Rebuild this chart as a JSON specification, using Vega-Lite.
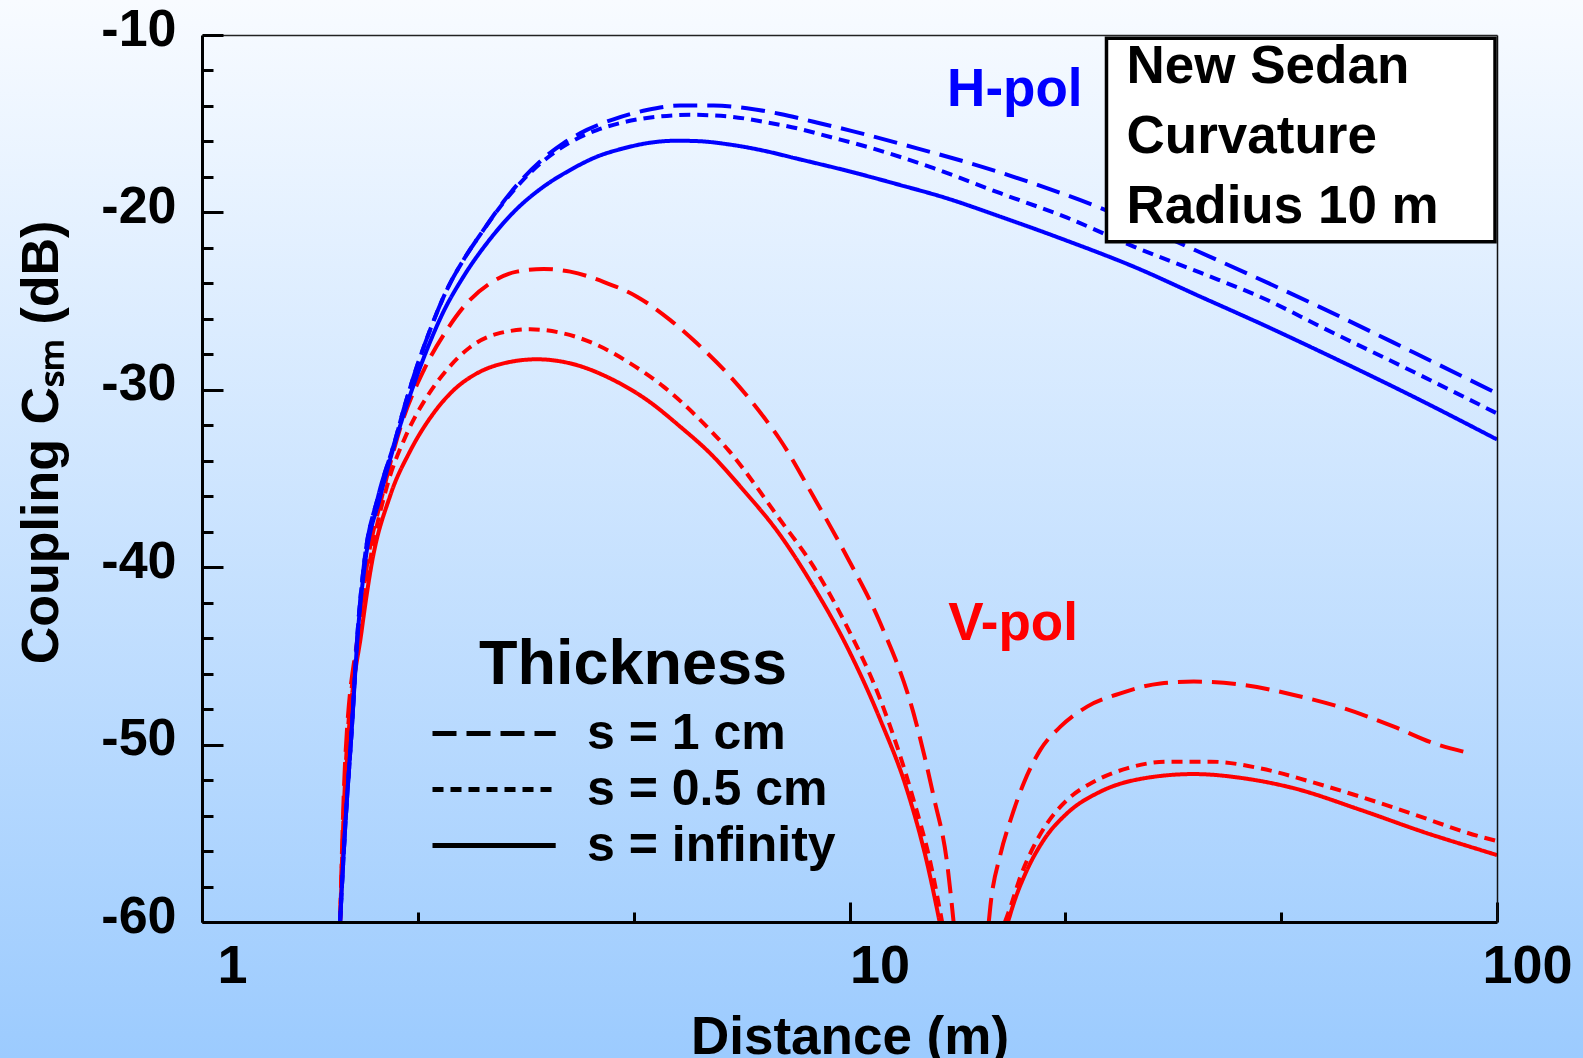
{
  "$schema": "https://vega.github.io/schema/vega-lite/v6.json",
  "width": 1295,
  "height": 887,
  "autosize": {"type": "none"},
  "padding": {"left": 202, "top": 35, "right": 86, "bottom": 136},
  "background": "#c8e0fe",
  "config": {"font": "Liberation Sans", "view": {"stroke": null}},
  "datasets": {
    "curves": [
      {"p":"V-pol","s":"s = infinity","k":"Va3","d":1.634,"c":-60},{"p":"V-pol","s":"s = infinity","k":"Va3","d":1.673,"c":-51.06},{"p":"V-pol","s":"s = infinity","k":"Va3","d":1.765,"c":-43.54},{"p":"V-pol","s":"s = infinity","k":"Va3","d":1.829,"c":-39.78},{"p":"V-pol","s":"s = infinity","k":"Va3","d":1.95,"c":-36.03},{"p":"V-pol","s":"s = infinity","k":"Va3","d":2.1,"c":-33.4},{"p":"V-pol","s":"s = infinity","k":"Va3","d":2.27,"c":-31.4},{"p":"V-pol","s":"s = infinity","k":"Va3","d":2.45,"c":-30.0},{"p":"V-pol","s":"s = infinity","k":"Va3","d":2.65,"c":-29.1},{"p":"V-pol","s":"s = infinity","k":"Va3","d":2.921,"c":-28.51},{"p":"V-pol","s":"s = infinity","k":"Va3","d":3.29,"c":-28.28},{"p":"V-pol","s":"s = infinity","k":"Va3","d":3.704,"c":-28.51},{"p":"V-pol","s":"s = infinity","k":"Va3","d":4.32,"c":-29.45},{"p":"V-pol","s":"s = infinity","k":"Va3","d":4.865,"c":-30.57},{"p":"V-pol","s":"s = infinity","k":"Va3","d":5.478,"c":-32.08},{"p":"V-pol","s":"s = infinity","k":"Va3","d":6.1,"c":-33.6},{"p":"V-pol","s":"s = infinity","k":"Va3","d":6.8,"c":-35.5},{"p":"V-pol","s":"s = infinity","k":"Va3","d":7.818,"c":-38.2},{"p":"V-pol","s":"s = infinity","k":"Va3","d":8.8,"c":-41.1},{"p":"V-pol","s":"s = infinity","k":"Va3","d":9.91,"c":-44.48},{"p":"V-pol","s":"s = infinity","k":"Va3","d":11.16,"c":-48.61},{"p":"V-pol","s":"s = infinity","k":"Va3","d":12.27,"c":-52.56},{"p":"V-pol","s":"s = infinity","k":"Va3","d":13.18,"c":-56.69},{"p":"V-pol","s":"s = infinity","k":"Va3","d":13.78,"c":-60},
      {"p":"V-pol","s":"s = 0.5 cm","k":"Va2","d":1.634,"c":-60},{"p":"V-pol","s":"s = 0.5 cm","k":"Va2","d":1.668,"c":-51.06},{"p":"V-pol","s":"s = 0.5 cm","k":"Va2","d":1.755,"c":-43.54},{"p":"V-pol","s":"s = 0.5 cm","k":"Va2","d":1.815,"c":-39.78},{"p":"V-pol","s":"s = 0.5 cm","k":"Va2","d":1.925,"c":-35.6},{"p":"V-pol","s":"s = 0.5 cm","k":"Va2","d":2.07,"c":-32.5},{"p":"V-pol","s":"s = 0.5 cm","k":"Va2","d":2.225,"c":-30.4},{"p":"V-pol","s":"s = 0.5 cm","k":"Va2","d":2.388,"c":-28.88},{"p":"V-pol","s":"s = 0.5 cm","k":"Va2","d":2.594,"c":-27.6},{"p":"V-pol","s":"s = 0.5 cm","k":"Va2","d":2.853,"c":-26.85},{"p":"V-pol","s":"s = 0.5 cm","k":"Va2","d":3.213,"c":-26.59},{"p":"V-pol","s":"s = 0.5 cm","k":"Va2","d":3.617,"c":-26.82},{"p":"V-pol","s":"s = 0.5 cm","k":"Va2","d":4.073,"c":-27.47},{"p":"V-pol","s":"s = 0.5 cm","k":"Va2","d":4.585,"c":-28.51},{"p":"V-pol","s":"s = 0.5 cm","k":"Va2","d":5.161,"c":-29.82},{"p":"V-pol","s":"s = 0.5 cm","k":"Va2","d":5.813,"c":-31.52},{"p":"V-pol","s":"s = 0.5 cm","k":"Va2","d":6.5,"c":-33.4},{"p":"V-pol","s":"s = 0.5 cm","k":"Va2","d":7.818,"c":-37.34},{"p":"V-pol","s":"s = 0.5 cm","k":"Va2","d":8.8,"c":-39.97},{"p":"V-pol","s":"s = 0.5 cm","k":"Va2","d":9.91,"c":-43.35},{"p":"V-pol","s":"s = 0.5 cm","k":"Va2","d":11.16,"c":-47.47},{"p":"V-pol","s":"s = 0.5 cm","k":"Va2","d":12.56,"c":-53.12},{"p":"V-pol","s":"s = 0.5 cm","k":"Va2","d":13.34,"c":-56.69},{"p":"V-pol","s":"s = 0.5 cm","k":"Va2","d":13.9,"c":-60},
      {"p":"V-pol","s":"s = 1 cm","k":"Va1","d":1.634,"c":-60},{"p":"V-pol","s":"s = 1 cm","k":"Va1","d":1.663,"c":-51.06},{"p":"V-pol","s":"s = 1 cm","k":"Va1","d":1.745,"c":-43.54},{"p":"V-pol","s":"s = 1 cm","k":"Va1","d":1.8,"c":-39.78},{"p":"V-pol","s":"s = 1 cm","k":"Va1","d":1.9,"c":-35.9},{"p":"V-pol","s":"s = 1 cm","k":"Va1","d":2.03,"c":-32.0},{"p":"V-pol","s":"s = 1 cm","k":"Va1","d":2.2,"c":-28.9},{"p":"V-pol","s":"s = 1 cm","k":"Va1","d":2.388,"c":-26.63},{"p":"V-pol","s":"s = 1 cm","k":"Va1","d":2.564,"c":-25.12},{"p":"V-pol","s":"s = 1 cm","k":"Va1","d":2.786,"c":-24.0},{"p":"V-pol","s":"s = 1 cm","k":"Va1","d":3.064,"c":-23.34},{"p":"V-pol","s":"s = 1 cm","k":"Va1","d":3.369,"c":-23.19},{"p":"V-pol","s":"s = 1 cm","k":"Va1","d":3.704,"c":-23.34},{"p":"V-pol","s":"s = 1 cm","k":"Va1","d":4.169,"c":-23.91},{"p":"V-pol","s":"s = 1 cm","k":"Va1","d":4.696,"c":-24.75},{"p":"V-pol","s":"s = 1 cm","k":"Va1","d":5.287,"c":-26.07},{"p":"V-pol","s":"s = 1 cm","k":"Va1","d":5.813,"c":-27.38},{"p":"V-pol","s":"s = 1 cm","k":"Va1","d":6.545,"c":-29.26},{"p":"V-pol","s":"s = 1 cm","k":"Va1","d":7.367,"c":-31.52},{"p":"V-pol","s":"s = 1 cm","k":"Va1","d":7.818,"c":-32.83},{"p":"V-pol","s":"s = 1 cm","k":"Va1","d":8.8,"c":-36.03},{"p":"V-pol","s":"s = 1 cm","k":"Va1","d":9.91,"c":-39.41},{"p":"V-pol","s":"s = 1 cm","k":"Va1","d":11.16,"c":-43.16},{"p":"V-pol","s":"s = 1 cm","k":"Va1","d":12.56,"c":-48.24},{"p":"V-pol","s":"s = 1 cm","k":"Va1","d":13.49,"c":-52.94},{"p":"V-pol","s":"s = 1 cm","k":"Va1","d":14.15,"c":-56.69},{"p":"V-pol","s":"s = 1 cm","k":"Va1","d":14.48,"c":-60},
      {"p":"V-pol","s":"s = 1 cm","k":"Vb1","d":16.41,"c":-60},{"p":"V-pol","s":"s = 1 cm","k":"Vb1","d":16.5,"c":-59.14},{"p":"V-pol","s":"s = 1 cm","k":"Vb1","d":17.1,"c":-56.2},{"p":"V-pol","s":"s = 1 cm","k":"Vb1","d":17.73,"c":-54.25},{"p":"V-pol","s":"s = 1 cm","k":"Vb1","d":18.58,"c":-52.18},{"p":"V-pol","s":"s = 1 cm","k":"Vb1","d":19.71,"c":-50.3},{"p":"V-pol","s":"s = 1 cm","k":"Vb1","d":21.17,"c":-48.99},{"p":"V-pol","s":"s = 1 cm","k":"Vb1","d":23.28,"c":-47.86},{"p":"V-pol","s":"s = 1 cm","k":"Vb1","d":26.21,"c":-47.11},{"p":"V-pol","s":"s = 1 cm","k":"Vb1","d":30.21,"c":-46.55},{"p":"V-pol","s":"s = 1 cm","k":"Vb1","d":34.02,"c":-46.45},{"p":"V-pol","s":"s = 1 cm","k":"Vb1","d":40.64,"c":-46.64},{"p":"V-pol","s":"s = 1 cm","k":"Vb1","d":48.56,"c":-47.2},{"p":"V-pol","s":"s = 1 cm","k":"Vb1","d":58.0,"c":-47.95},{"p":"V-pol","s":"s = 1 cm","k":"Vb1","d":69.3,"c":-48.99},{"p":"V-pol","s":"s = 1 cm","k":"Vb1","d":79.9,"c":-49.93},{"p":"V-pol","s":"s = 1 cm","k":"Vb1","d":91.0,"c":-50.49},
      {"p":"V-pol","s":"s = 0.5 cm","k":"Vb2","d":17.38,"c":-60},{"p":"V-pol","s":"s = 0.5 cm","k":"Vb2","d":17.73,"c":-59.14},{"p":"V-pol","s":"s = 0.5 cm","k":"Vb2","d":18.36,"c":-57.45},{"p":"V-pol","s":"s = 0.5 cm","k":"Vb2","d":19.13,"c":-55.94},{"p":"V-pol","s":"s = 0.5 cm","k":"Vb2","d":20.19,"c":-54.44},{"p":"V-pol","s":"s = 0.5 cm","k":"Vb2","d":21.68,"c":-53.12},{"p":"V-pol","s":"s = 0.5 cm","k":"Vb2","d":23.84,"c":-52.09},{"p":"V-pol","s":"s = 0.5 cm","k":"Vb2","d":26.83,"c":-51.34},{"p":"V-pol","s":"s = 0.5 cm","k":"Vb2","d":30.94,"c":-50.96},{"p":"V-pol","s":"s = 0.5 cm","k":"Vb2","d":36.1,"c":-50.96},{"p":"V-pol","s":"s = 0.5 cm","k":"Vb2","d":43.13,"c":-51.34},{"p":"V-pol","s":"s = 0.5 cm","k":"Vb2","d":51.52,"c":-52.09},{"p":"V-pol","s":"s = 0.5 cm","k":"Vb2","d":61.54,"c":-52.94},{"p":"V-pol","s":"s = 0.5 cm","k":"Vb2","d":73.53,"c":-53.87},{"p":"V-pol","s":"s = 0.5 cm","k":"Vb2","d":94.3,"c":-55.19},{"p":"V-pol","s":"s = 0.5 cm","k":"Vb2","d":100,"c":-55.43},
      {"p":"V-pol","s":"s = infinity","k":"Vb3","d":17.57,"c":-60},{"p":"V-pol","s":"s = infinity","k":"Vb3","d":17.93,"c":-58.95},{"p":"V-pol","s":"s = infinity","k":"Vb3","d":18.8,"c":-57.07},{"p":"V-pol","s":"s = infinity","k":"Vb3","d":19.95,"c":-55.38},{"p":"V-pol","s":"s = infinity","k":"Vb3","d":21.68,"c":-53.87},{"p":"V-pol","s":"s = infinity","k":"Vb3","d":24.41,"c":-52.65},{"p":"V-pol","s":"s = infinity","k":"Vb3","d":28.49,"c":-51.9},{"p":"V-pol","s":"s = infinity","k":"Vb3","d":34.02,"c":-51.66},{"p":"V-pol","s":"s = infinity","k":"Vb3","d":40.64,"c":-51.9},{"p":"V-pol","s":"s = infinity","k":"Vb3","d":48.56,"c":-52.46},{"p":"V-pol","s":"s = infinity","k":"Vb3","d":61.54,"c":-53.68},{"p":"V-pol","s":"s = infinity","k":"Vb3","d":78.04,"c":-55.0},{"p":"V-pol","s":"s = infinity","k":"Vb3","d":94.3,"c":-55.94},{"p":"V-pol","s":"s = infinity","k":"Vb3","d":100,"c":-56.23},
      {"p":"H-pol","s":"s = 1 cm","k":"H1","d":1.634,"c":-60},{"p":"H-pol","s":"s = 1 cm","k":"H1","d":1.663,"c":-54.81},{"p":"H-pol","s":"s = 1 cm","k":"H1","d":1.703,"c":-49.18},{"p":"H-pol","s":"s = 1 cm","k":"H1","d":1.74,"c":-43.54},{"p":"H-pol","s":"s = 1 cm","k":"H1","d":1.78,"c":-39.76},{"p":"H-pol","s":"s = 1 cm","k":"H1","d":1.87,"c":-36.04},{"p":"H-pol","s":"s = 1 cm","k":"H1","d":1.988,"c":-32.83},{"p":"H-pol","s":"s = 1 cm","k":"H1","d":2.047,"c":-31.14},{"p":"H-pol","s":"s = 1 cm","k":"H1","d":2.147,"c":-28.7},{"p":"H-pol","s":"s = 1 cm","k":"H1","d":2.25,"c":-26.63},{"p":"H-pol","s":"s = 1 cm","k":"H1","d":2.388,"c":-24.37},{"p":"H-pol","s":"s = 1 cm","k":"H1","d":2.534,"c":-22.68},{"p":"H-pol","s":"s = 1 cm","k":"H1","d":2.721,"c":-20.99},{"p":"H-pol","s":"s = 1 cm","k":"H1","d":2.921,"c":-19.4},{"p":"H-pol","s":"s = 1 cm","k":"H1","d":3.136,"c":-18.05},{"p":"H-pol","s":"s = 1 cm","k":"H1","d":3.369,"c":-16.95},{"p":"H-pol","s":"s = 1 cm","k":"H1","d":3.617,"c":-16.1},{"p":"H-pol","s":"s = 1 cm","k":"H1","d":3.93,"c":-15.35},{"p":"H-pol","s":"s = 1 cm","k":"H1","d":4.32,"c":-14.75},{"p":"H-pol","s":"s = 1 cm","k":"H1","d":4.865,"c":-14.23},{"p":"H-pol","s":"s = 1 cm","k":"H1","d":5.478,"c":-13.98},{"p":"H-pol","s":"s = 1 cm","k":"H1","d":6.166,"c":-13.98},{"p":"H-pol","s":"s = 1 cm","k":"H1","d":6.944,"c":-14.13},{"p":"H-pol","s":"s = 1 cm","k":"H1","d":7.818,"c":-14.45},{"p":"H-pol","s":"s = 1 cm","k":"H1","d":8.8,"c":-14.89},{"p":"H-pol","s":"s = 1 cm","k":"H1","d":10.03,"c":-15.39},{"p":"H-pol","s":"s = 1 cm","k":"H1","d":12.72,"c":-16.39},{"p":"H-pol","s":"s = 1 cm","k":"H1","d":16.12,"c":-17.46},{"p":"H-pol","s":"s = 1 cm","k":"H1","d":20.43,"c":-18.7},{"p":"H-pol","s":"s = 1 cm","k":"H1","d":24.41,"c":-19.75},{"p":"H-pol","s":"s = 1 cm","k":"H1","d":32.83,"c":-21.84},{"p":"H-pol","s":"s = 1 cm","k":"H1","d":41.63,"c":-23.53},{"p":"H-pol","s":"s = 1 cm","k":"H1","d":53.1,"c":-25.31},{"p":"H-pol","s":"s = 1 cm","k":"H1","d":74.4,"c":-27.9},{"p":"H-pol","s":"s = 1 cm","k":"H1","d":100,"c":-30.2},
      {"p":"H-pol","s":"s = 0.5 cm","k":"H2","d":1.634,"c":-60},{"p":"H-pol","s":"s = 0.5 cm","k":"H2","d":1.663,"c":-54.81},{"p":"H-pol","s":"s = 0.5 cm","k":"H2","d":1.703,"c":-49.18},{"p":"H-pol","s":"s = 0.5 cm","k":"H2","d":1.74,"c":-43.54},{"p":"H-pol","s":"s = 0.5 cm","k":"H2","d":1.78,"c":-39.76},{"p":"H-pol","s":"s = 0.5 cm","k":"H2","d":1.87,"c":-36.04},{"p":"H-pol","s":"s = 0.5 cm","k":"H2","d":1.988,"c":-32.83},{"p":"H-pol","s":"s = 0.5 cm","k":"H2","d":2.047,"c":-31.14},{"p":"H-pol","s":"s = 0.5 cm","k":"H2","d":2.147,"c":-28.7},{"p":"H-pol","s":"s = 0.5 cm","k":"H2","d":2.25,"c":-26.63},{"p":"H-pol","s":"s = 0.5 cm","k":"H2","d":2.388,"c":-24.37},{"p":"H-pol","s":"s = 0.5 cm","k":"H2","d":2.534,"c":-22.68},{"p":"H-pol","s":"s = 0.5 cm","k":"H2","d":2.721,"c":-20.99},{"p":"H-pol","s":"s = 0.5 cm","k":"H2","d":2.921,"c":-19.45},{"p":"H-pol","s":"s = 0.5 cm","k":"H2","d":3.136,"c":-18.15},{"p":"H-pol","s":"s = 0.5 cm","k":"H2","d":3.408,"c":-16.95},{"p":"H-pol","s":"s = 0.5 cm","k":"H2","d":3.704,"c":-16.05},{"p":"H-pol","s":"s = 0.5 cm","k":"H2","d":4.073,"c":-15.36},{"p":"H-pol","s":"s = 0.5 cm","k":"H2","d":4.5,"c":-14.9},{"p":"H-pol","s":"s = 0.5 cm","k":"H2","d":5.0,"c":-14.62},{"p":"H-pol","s":"s = 0.5 cm","k":"H2","d":5.7,"c":-14.5},{"p":"H-pol","s":"s = 0.5 cm","k":"H2","d":6.545,"c":-14.6},{"p":"H-pol","s":"s = 0.5 cm","k":"H2","d":7.367,"c":-14.89},{"p":"H-pol","s":"s = 0.5 cm","k":"H2","d":8.295,"c":-15.26},{"p":"H-pol","s":"s = 0.5 cm","k":"H2","d":9.34,"c":-15.75},{"p":"H-pol","s":"s = 0.5 cm","k":"H2","d":10.64,"c":-16.3},{"p":"H-pol","s":"s = 0.5 cm","k":"H2","d":13.49,"c":-17.51},{"p":"H-pol","s":"s = 0.5 cm","k":"H2","d":17.1,"c":-18.92},{"p":"H-pol","s":"s = 0.5 cm","k":"H2","d":21.68,"c":-20.3},{"p":"H-pol","s":"s = 0.5 cm","k":"H2","d":27.48,"c":-21.93},{"p":"H-pol","s":"s = 0.5 cm","k":"H2","d":34.83,"c":-23.4},{"p":"H-pol","s":"s = 0.5 cm","k":"H2","d":44.17,"c":-24.94},{"p":"H-pol","s":"s = 0.5 cm","k":"H2","d":53.39,"c":-26.44},{"p":"H-pol","s":"s = 0.5 cm","k":"H2","d":74.4,"c":-29.0},{"p":"H-pol","s":"s = 0.5 cm","k":"H2","d":100,"c":-31.33},
      {"p":"H-pol","s":"s = infinity","k":"H3","d":1.634,"c":-60},{"p":"H-pol","s":"s = infinity","k":"H3","d":1.663,"c":-54.81},{"p":"H-pol","s":"s = infinity","k":"H3","d":1.703,"c":-49.18},{"p":"H-pol","s":"s = infinity","k":"H3","d":1.742,"c":-43.54},{"p":"H-pol","s":"s = infinity","k":"H3","d":1.786,"c":-39.76},{"p":"H-pol","s":"s = infinity","k":"H3","d":1.884,"c":-36.04},{"p":"H-pol","s":"s = infinity","k":"H3","d":2.02,"c":-32.1},{"p":"H-pol","s":"s = infinity","k":"H3","d":2.2,"c":-28.2},{"p":"H-pol","s":"s = infinity","k":"H3","d":2.36,"c":-25.6},{"p":"H-pol","s":"s = infinity","k":"H3","d":2.534,"c":-23.62},{"p":"H-pol","s":"s = infinity","k":"H3","d":2.786,"c":-21.5},{"p":"H-pol","s":"s = infinity","k":"H3","d":3.064,"c":-19.8},{"p":"H-pol","s":"s = infinity","k":"H3","d":3.369,"c":-18.55},{"p":"H-pol","s":"s = infinity","k":"H3","d":3.704,"c":-17.61},{"p":"H-pol","s":"s = infinity","k":"H3","d":4.073,"c":-16.86},{"p":"H-pol","s":"s = infinity","k":"H3","d":4.477,"c":-16.39},{"p":"H-pol","s":"s = infinity","k":"H3","d":4.923,"c":-16.07},{"p":"H-pol","s":"s = infinity","k":"H3","d":5.414,"c":-15.96},{"p":"H-pol","s":"s = infinity","k":"H3","d":5.813,"c":-15.98},{"p":"H-pol","s":"s = infinity","k":"H3","d":6.545,"c":-16.18},{"p":"H-pol","s":"s = infinity","k":"H3","d":7.367,"c":-16.52},{"p":"H-pol","s":"s = infinity","k":"H3","d":8.295,"c":-16.97},{"p":"H-pol","s":"s = infinity","k":"H3","d":10.03,"c":-17.7},{"p":"H-pol","s":"s = infinity","k":"H3","d":11.98,"c":-18.46},{"p":"H-pol","s":"s = infinity","k":"H3","d":13.98,"c":-19.15},{"p":"H-pol","s":"s = infinity","k":"H3","d":17.1,"c":-20.24},{"p":"H-pol","s":"s = infinity","k":"H3","d":21.68,"c":-21.6},{"p":"H-pol","s":"s = infinity","k":"H3","d":27.48,"c":-23.06},{"p":"H-pol","s":"s = infinity","k":"H3","d":34.83,"c":-24.75},{"p":"H-pol","s":"s = infinity","k":"H3","d":44.17,"c":-26.44},{"p":"H-pol","s":"s = infinity","k":"H3","d":53.39,"c":-27.85},{"p":"H-pol","s":"s = infinity","k":"H3","d":74.4,"c":-30.4},{"p":"H-pol","s":"s = infinity","k":"H3","d":100,"c":-32.8}
    ]
  },
  "resolve": {"axis": {"x": "independent", "y": "independent"}},
  "layer": [
    {
      "data": {"values": [{}]},
      "mark": {"type": "rect", "fill": {"gradient": "linear", "x1": 0, "y1": 0, "x2": 0, "y2": 1, "stops": [{"offset": 0.0165, "color": "#f8fbff"}, {"offset": 0.978, "color": "#9ccbfe"}]}},
      "encoding": {
        "x": {"datum": 0.4, "type": "quantitative", "scale": {"type": "log", "domain": [1, 100], "nice": false}, "axis": null},
        "x2": {"datum": 160},
        "y": {"datum": -7, "type": "quantitative", "scale": {"domain": [-60, -10], "nice": false, "zero": false}, "axis": null},
        "y2": {"datum": -69}
      }
    },
    {
      "data": {"name": "curves"},
      "mark": {"type": "line", "strokeWidth": 4, "interpolate": "monotone"},
      "encoding": {
        "x": {
          "field": "d", "type": "quantitative",
          "scale": {"type": "log", "domain": [1, 100], "nice": false},
          "axis": {
            "orient": "bottom", "zindex": 2,
            "values": [1, 2.1544, 4.6416, 10, 21.544, 46.416, 100],
            "labelExpr": "(datum.value == 1 || datum.value == 10 || datum.value == 100) ? ('' + datum.value) : ''",
            "tickSize": {"condition": {"test": "datum.value == 1 || datum.value == 10 || datum.value == 100", "value": -20}, "value": -10},
            "tickWidth": 3, "tickColor": "black",
            "domainWidth": 3, "domainColor": "black",
            "grid": false,
            "labelFont": "Liberation Sans", "labelFontSize": 54, "labelFontWeight": "bold", "labelColor": "black",
            "labelPadding": 37, "labelOffset": 30, "labelFlush": false, "labelOverlap": false, "labelBound": false,
            "title": "Distance (m)", "titleFont": "Liberation Sans", "titleFontSize": 53, "titleFontWeight": "bold", "titleColor": "black", "titlePadding": 8
          }
        },
        "y": {
          "field": "c", "type": "quantitative",
          "scale": {"domain": [-60, -10], "nice": false, "zero": false},
          "axis": {
            "orient": "left", "zindex": 2,
            "values": [-60, -58, -56, -54, -52, -50, -48, -46, -44, -42, -40, -38, -36, -34, -32, -30, -28, -26, -24, -22, -20, -18, -16, -14, -12, -10],
            "labelExpr": "datum.value % 10 === 0 ? ('' + datum.value) : ''",
            "tickSize": {"condition": {"test": "datum.value % 10 === 0", "value": -21}, "value": -11},
            "tickWidth": 3, "tickColor": "black",
            "domainWidth": 3, "domainColor": "black",
            "grid": false,
            "labelFont": "Liberation Sans", "labelFontSize": 52, "labelFontWeight": "bold", "labelColor": "black",
            "labelPadding": 47, "labelBaseline": "middle", "labelOffset": -6, "labelFlush": false, "labelOverlap": false, "labelBound": false,
            "title": "Coupling Cₛₘ (dB)", "titleFont": "Liberation Sans", "titleFontSize": 52, "titleFontWeight": "bold", "titleColor": "black", "titlePadding": 32, "titleY": 407
          }
        },
        "color": {"field": "p", "type": "nominal", "scale": {"domain": ["V-pol", "H-pol"], "range": ["#ff0000", "#0000ff"]}, "legend": null},
        "strokeDash": {
          "field": "s", "type": "nominal",
          "scale": {"domain": ["s = 1 cm", "s = 0.5 cm", "s = infinity"], "range": [[24, 10], [11, 7], [1, 0]]},
          "legend": {
            "orient": "none", "legendX": 228, "legendY": 599, "padding": 0, "zindex": 3,
            "title": "Thickness", "titleFont": "Liberation Sans", "titleFontSize": 63, "titleFontWeight": "bold", "titleColor": "black", "titleAnchor": "middle", "titlePadding": 6, "titleLimit": 800,
            "labelFont": "Liberation Sans", "labelFontSize": 50, "labelFontWeight": "bold", "labelColor": "black", "labelOffset": 96, "labelLimit": 500,
            "symbolType": "M-1,0H3.4", "symbolSize": 3136, "symbolStrokeWidth": 5, "symbolStrokeColor": "black", "symbolFillColor": "transparent", "rowPadding": 0
          }
        },
        "detail": {"field": "k", "type": "nominal"}
      }
    },
    {
      "data": {"values": [{}]},
      "mark": {"type": "rect", "fill": "white", "stroke": "black", "strokeWidth": 3.5},
      "encoding": {
        "x": {"datum": 24.94, "type": "quantitative", "scale": {"type": "log", "domain": [1, 100], "nice": false},
              "axis": {"orient": "top", "zindex": 2, "values": [], "ticks": false, "labels": false, "grid": false, "domain": true, "domainColor": "#222222", "domainWidth": 1.5, "title": null}},
        "x2": {"datum": 99.3},
        "y": {"datum": -10.19, "type": "quantitative", "scale": {"domain": [-60, -10], "nice": false, "zero": false},
              "axis": {"orient": "right", "zindex": 2, "values": [], "ticks": false, "labels": false, "grid": false, "domain": true, "domainColor": "#111111", "domainWidth": 1.5, "title": null}},
        "y2": {"datum": -21.65}
      }
    },
    {
      "data": {"values": [{}]},
      "mark": {"type": "text", "align": "left", "baseline": "alphabetic", "font": "Liberation Sans", "fontSize": 53, "fontWeight": "bold", "color": "black", "lineHeight": 70},
      "encoding": {
        "x": {"datum": 26.78, "type": "quantitative", "scale": {"type": "log", "domain": [1, 100], "nice": false}, "axis": null},
        "y": {"datum": -12.7, "type": "quantitative", "scale": {"domain": [-60, -10], "nice": false, "zero": false}, "axis": null},
        "text": {"value": ["New Sedan", "Curvature", "Radius 10 m"]}
      }
    },
    {
      "data": {"values": [{}]},
      "mark": {"type": "text", "align": "left", "baseline": "alphabetic", "font": "Liberation Sans", "fontSize": 53, "fontWeight": "bold", "color": "#0000ff"},
      "encoding": {
        "x": {"datum": 14.15, "type": "quantitative", "scale": {"type": "log", "domain": [1, 100], "nice": false}, "axis": null},
        "y": {"datum": -14.0, "type": "quantitative", "scale": {"domain": [-60, -10], "nice": false, "zero": false}, "axis": null},
        "text": {"value": "H-pol"}
      }
    },
    {
      "data": {"values": [{}]},
      "mark": {"type": "text", "align": "left", "baseline": "alphabetic", "font": "Liberation Sans", "fontSize": 53, "fontWeight": "bold", "color": "#ff0000"},
      "encoding": {
        "x": {"datum": 14.21, "type": "quantitative", "scale": {"type": "log", "domain": [1, 100], "nice": false}, "axis": null},
        "y": {"datum": -44.1, "type": "quantitative", "scale": {"domain": [-60, -10], "nice": false, "zero": false}, "axis": null},
        "text": {"value": "V-pol"}
      }
    }
  ]
}
